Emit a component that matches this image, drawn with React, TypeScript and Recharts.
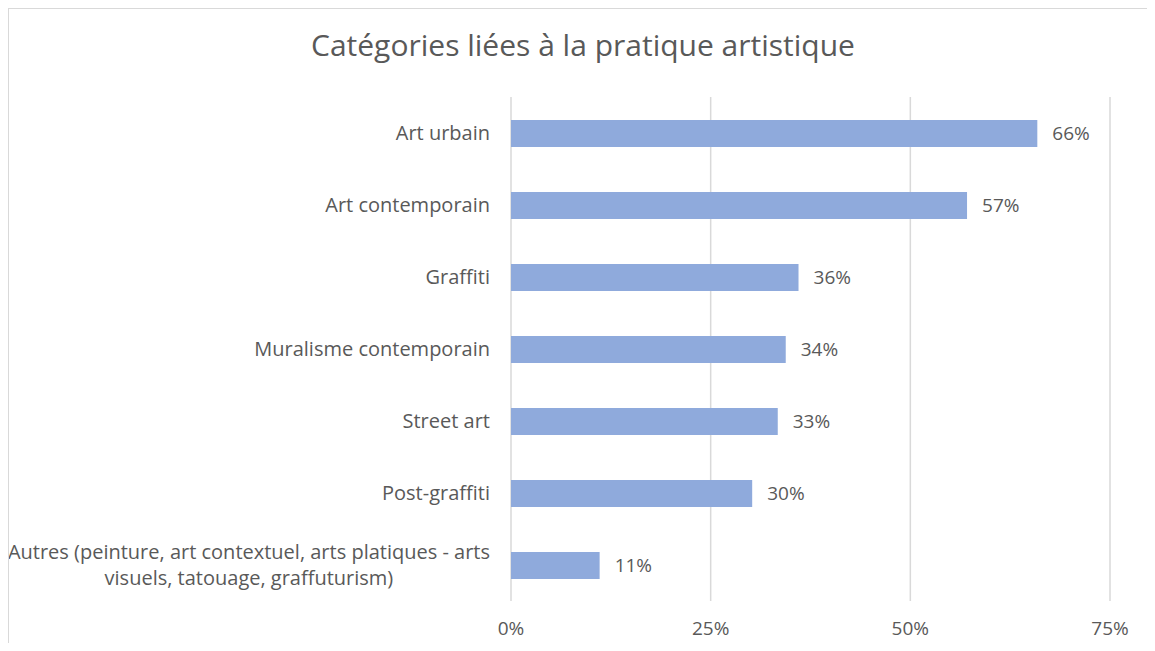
import { BarChart, Bar, XAxis, YAxis, CartesianGrid, LabelList } from 'recharts'

// Catégories liées à la pratique artistique (% of respondents)
const categories = [
  'Art urbain',
  'Art contemporain',
  'Graffiti',
  'Muralisme contemporain',
  'Street art',
  'Post-graffiti',
  'Autres (peinture, art contextuel, arts platiques - arts visuels, tatouage, graffuturism)',
]
const shares = [65.9, 57.1, 36.0, 34.4, 33.4, 30.2, 11.1]
const xTicks = [0, 25, 50, 75]

const TEXT = '#595959'
const GRID = '#d9d9d9'
const BAR = '#8faadc'
const FONT = '"Open Sans", sans-serif'
const CAT_SIZE = 20

const data = categories.map((name, i) => ({ name, share: shares[i] }))

let ctx: CanvasRenderingContext2D | null = null
function textWidth(s: string): number {
  if (!ctx) ctx = document.createElement('canvas').getContext('2d')
  if (!ctx) return s.length * CAT_SIZE * 0.5
  ctx.font = `${CAT_SIZE}px "Open Sans"`
  return ctx.measureText(s).width
}

// break long labels into lines of at most ~56 characters
function wrap(label: string, max = 56): string[] {
  const lines: string[] = []
  let cur = ''
  for (const w of label.split(' ')) {
    const next = cur ? cur + ' ' + w : w
    if (next.length > max && cur) {
      lines.push(cur)
      cur = w
    } else {
      cur = next
    }
  }
  if (cur) lines.push(cur)
  return lines
}

function CategoryTick(props: any) {
  const { x, y, payload } = props
  const lines = wrap(String(payload.value))
  if (lines.length === 1) {
    return (
      <text x={x} y={y} dy="0.35em" textAnchor="end" fill={TEXT} fontSize={CAT_SIZE} fontFamily={FONT}>
        {lines[0]}
      </text>
    )
  }
  const lh = 26
  const w = Math.max(...lines.map(textWidth))
  const cx = x - w / 2
  return (
    <text x={cx} y={y} textAnchor="middle" fill={TEXT} fontSize={CAT_SIZE} fontFamily={FONT}>
      {lines.map((l, i) => (
        <tspan key={i} x={cx} dy={i === 0 ? -((lines.length - 1) * lh) / 2 + 7 : lh}>
          {l}
        </tspan>
      ))}
    </text>
  )
}

export default function App() {
  return (
    <div
      style={{
        position: 'relative',
        width: 1139,
        height: 635,
        boxSizing: 'border-box',
        borderTop: `1px solid ${GRID}`,
        borderLeft: `1px solid ${GRID}`,
        fontFamily: FONT,
        background: '#fff',
      }}
    >
      <div
        style={{
          position: 'absolute',
          left: 10,
          top: 21,
          width: 1128,
          textAlign: 'center',
          fontSize: 30,
          lineHeight: '30px',
          color: TEXT,
          whiteSpace: 'nowrap',
        }}
      >
        Catégories liées à la pratique artistique
      </div>
      <div style={{ position: 'absolute', left: 0, top: 0 }}>
        <BarChart
          width={1137}
          height={633}
          data={data}
          layout="vertical"
          margin={{ top: 88, right: 36, bottom: 0, left: 0 }}
          barCategoryGap={0}
        >
          <CartesianGrid horizontal={false} stroke={GRID} strokeWidth={1.5} />
          <XAxis
            type="number"
            domain={[0, 75]}
            ticks={xTicks}
            tickFormatter={(v: number) => `${v}%`}
            axisLine={false}
            tickLine={false}
            tickSize={0}
            tickMargin={21}
            height={41}
            tick={{ fill: TEXT, fontSize: 19, fontFamily: FONT }}
          />
          <YAxis
            type="category"
            dataKey="name"
            width={502}
            axisLine={false}
            tickLine={false}
            tickSize={0}
            tickMargin={21}
            interval={0}
            tick={<CategoryTick />}
          />
          <Bar dataKey="share" fill={BAR} barSize={27} isAnimationActive={false}>
            <LabelList
              dataKey="share"
              position="right"
              offset={15}
              formatter={(v: any) => `${Math.round(Number(v))}%`}
              fill={TEXT}
              fontSize={19}
              fontFamily={FONT}
            />
          </Bar>
        </BarChart>
      </div>
    </div>
  )
}
